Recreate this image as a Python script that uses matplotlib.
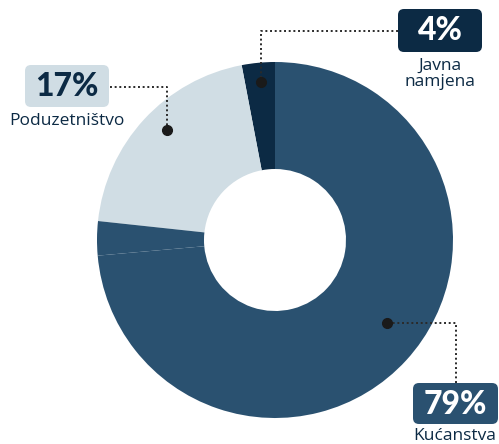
import matplotlib.pyplot as plt
from matplotlib.patches import FancyBboxPatch

# wedge shares as drawn (percent of the ring), starting at 12 o'clock, counter-clockwise
wedge_names = ["Javna namjena", "Poduzetništvo", "Kućanstva", "Kućanstva"]
wedge_sizes = [3.0, 20.3, 3.1, 73.6]
wedge_colors = ["#0c2a44", "#d0dde4", "#2a5170", "#2a5170"]

# labels shown on the chart
label_values = ["4%", "17%", "79%"]
label_names = ["Javna\nnamjena", "Poduzetništvo", "Kućanstva"]

W, H = 499, 444
fig = plt.figure(figsize=(W / 100, H / 100), dpi=100)
ax = fig.add_axes([0, 0, 1, 1])

cx, cy, r_out, r_in = 275, 444 - 240, 178, 71
ax.pie(wedge_sizes, colors=wedge_colors, startangle=90, counterclock=True,
       center=(cx, cy), radius=r_out, frame=True,
       wedgeprops=dict(width=r_out - r_in, linewidth=0))
ax.set_xlim(0, W)
ax.set_ylim(0, H)
ax.set_aspect("equal")
ax.axis("off")

dark = "#0c2a44"
pct_font = "Lato"
name_font = "Open Sans"


def box(x0, y0, x1, y1, color):
    p = FancyBboxPatch((x0, 444 - y1), x1 - x0, y1 - y0,
                       boxstyle="round,pad=0,rounding_size=6",
                       fc=color, ec="none", zorder=3)
    ax.add_patch(p)


def leader(points):
    xs = [p[0] for p in points]
    ys = [444 - p[1] for p in points]
    ax.plot(xs, ys, color="#2a2a2a", lw=1.4, ls=(0, (1, 1.4)), zorder=4)
    ax.plot(xs[-1], ys[-1], "o", color="#1a1a1a", ms=7, zorder=5)


# 4% - Javna namjena
box(398, 9, 482, 52, "#0c2a44")
ax.text(440, 444 - 31, label_values[0], ha="center", va="center",
        color="white", fontsize=23, fontweight="black", family=pct_font, zorder=4)
ax.text(440, 444 - 74, label_names[0], ha="center", va="center",
        color=dark, fontsize=12.5, family=name_font, linespacing=1.05)
leader([(398, 31), (261, 31), (261, 82)])

# 17% - Poduzetništvo
box(25, 65, 109, 107, "#d0dde4")
ax.text(67, 444 - 87, label_values[1], ha="center", va="center",
        color=dark, fontsize=23, fontweight="black", family=pct_font, zorder=4)
ax.text(67, 444 - 121, label_names[1], ha="center", va="center",
        color=dark, fontsize=12.5, family=name_font)
leader([(110, 87), (167, 87), (167, 130)])

# 79% - Kućanstva
box(413, 383, 498, 424, "#2a5170")
ax.text(455, 444 - 404, label_values[2], ha="center", va="center",
        color="white", fontsize=23, fontweight="black", family=pct_font, zorder=4)
ax.text(455, 444 - 436, label_names[2], ha="center", va="center",
        color=dark, fontsize=12.5, family=name_font)
leader([(456, 383), (456, 323), (387, 323)])

fig.savefig("out.png", dpi=100, facecolor="white")
